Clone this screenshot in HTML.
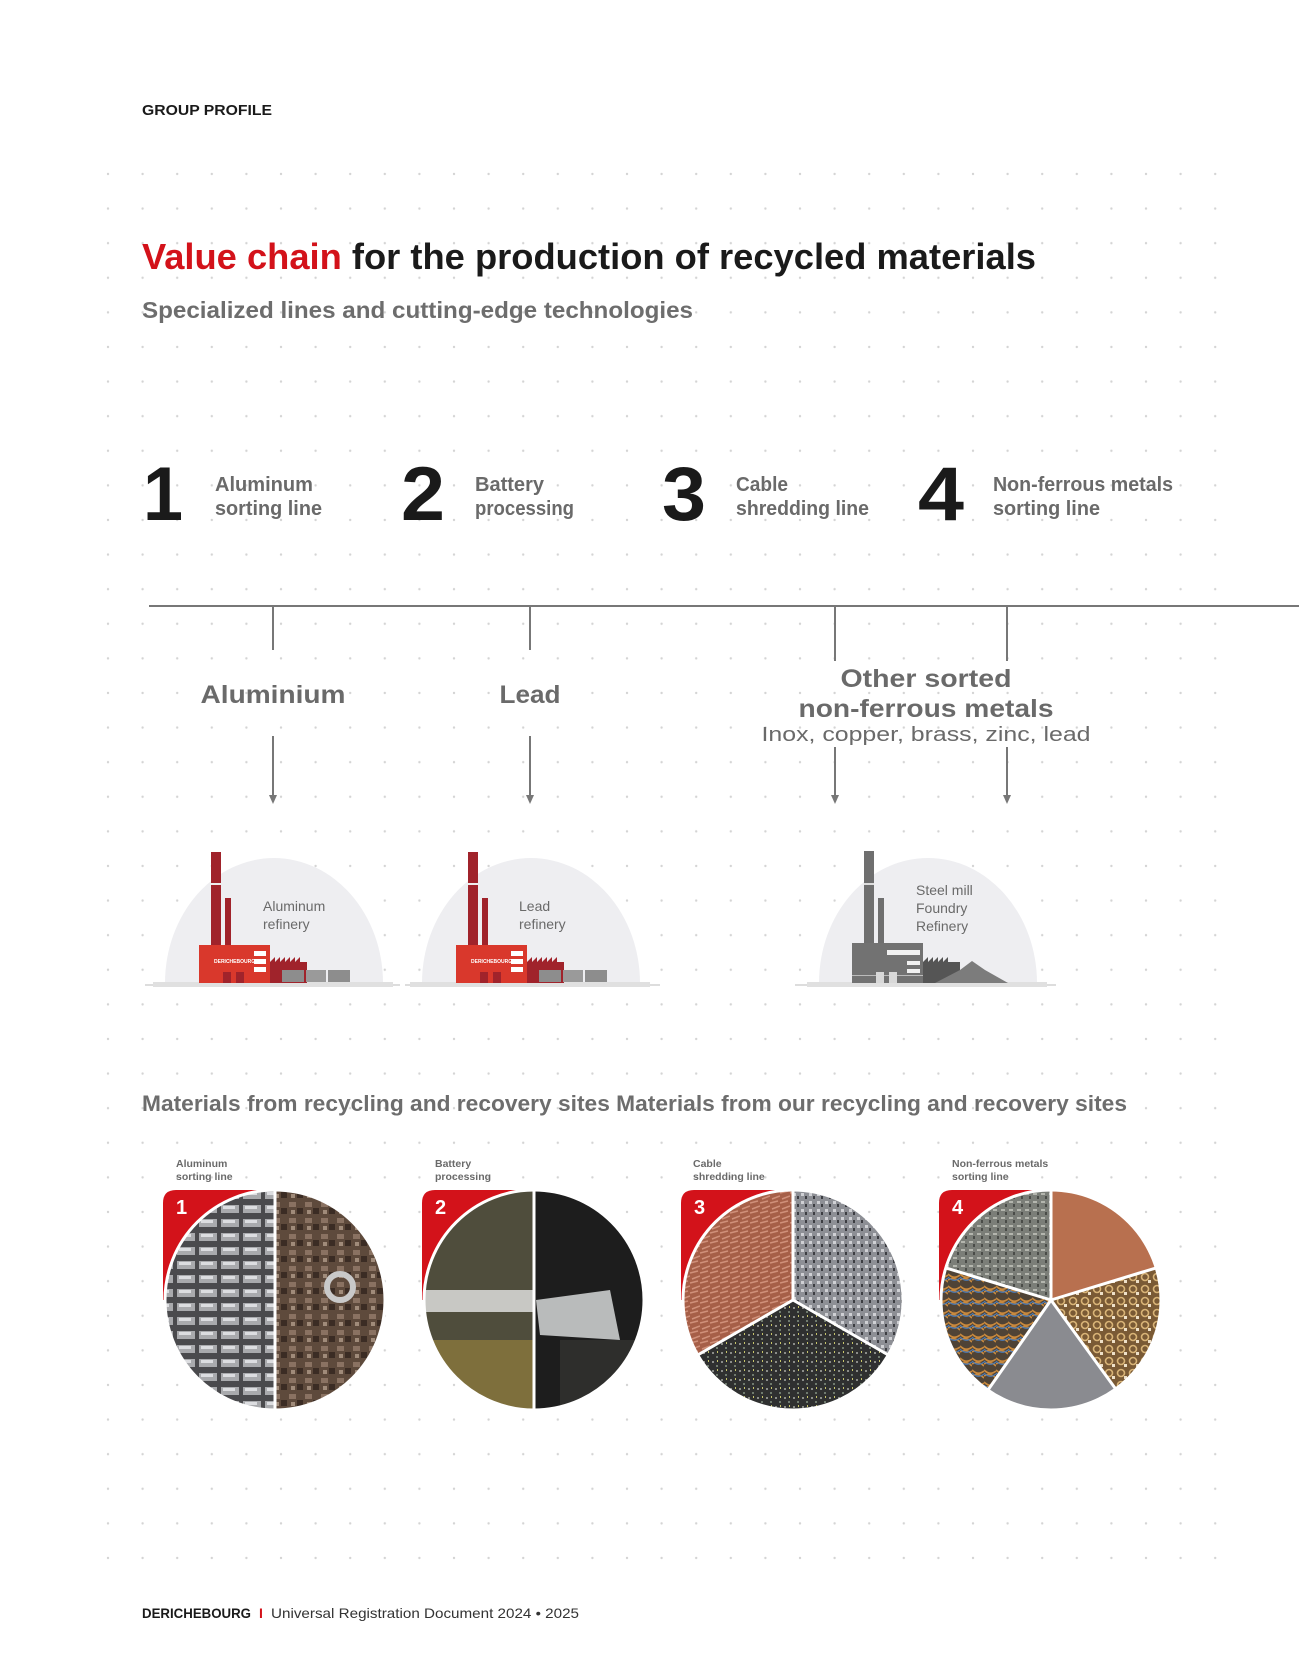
<!DOCTYPE html>
<html><head><meta charset="utf-8"><style>
html,body{margin:0;padding:0;background:#fff;}
svg{display:block;}
text{font-family:"Liberation Sans",sans-serif;}
</style></head><body>
<svg width="1299" height="1653" viewBox="0 0 1299 1653" xmlns="http://www.w3.org/2000/svg">
<defs>
<pattern id="dots" x="106.5" y="172.5" width="34.6" height="34.6" patternUnits="userSpaceOnUse">
<circle cx="1.5" cy="1.5" r="1.2" fill="#d4d4d4"/></pattern>
<pattern id="silver" width="22" height="14" patternUnits="userSpaceOnUse">
<rect width="22" height="14" fill="#4a4a4d"/><rect x="1" y="1" width="18" height="8" fill="#a9aaad"/><rect x="3" y="2" width="12" height="3" fill="#dcdde0"/></pattern>
<pattern id="brown" width="16" height="16" patternUnits="userSpaceOnUse">
<rect width="16" height="16" fill="#5e4a3c"/><rect x="1" y="2" width="7" height="5" fill="#8a7262"/><rect x="9" y="8" width="6" height="6" fill="#3b2c24"/><rect x="3" y="10" width="4" height="4" fill="#a08b7a"/></pattern>
<pattern id="copper" width="10" height="10" patternUnits="userSpaceOnUse">
<rect width="10" height="10" fill="#a65f48"/><path d="M0 3 L8 1 M2 9 L10 6" stroke="#d0907a" stroke-width="1.5"/></pattern>
<pattern id="grav" width="8" height="8" patternUnits="userSpaceOnUse">
<rect width="8" height="8" fill="#8d8f95"/><rect x="1" y="1" width="3" height="3" fill="#cfd0d4"/><rect x="5" y="4" width="2" height="3" fill="#3c3d42"/></pattern>
<pattern id="grav2" width="8" height="8" patternUnits="userSpaceOnUse">
<rect width="8" height="8" fill="#7b7e78"/><rect x="1" y="1" width="4" height="2" fill="#b4b6ae"/><rect x="5" y="4" width="2" height="3" fill="#4a4c48"/></pattern>
<pattern id="darksp" width="9" height="9" patternUnits="userSpaceOnUse">
<rect width="9" height="9" fill="#2f3030"/><rect x="1" y="2" width="2" height="2" fill="#8b8d89"/><rect x="5" y="6" width="2" height="2" fill="#6f7a6e"/><rect x="6" y="1" width="1" height="2" fill="#c8c66a"/></pattern>
<pattern id="wires" width="12" height="12" patternUnits="userSpaceOnUse">
<rect width="12" height="12" fill="#4f4336"/><path d="M0 2 Q6 8 12 3 M0 8 Q6 4 12 10" stroke="#c9893d" stroke-width="1.6" fill="none"/><path d="M0 5 Q6 11 12 6" stroke="#4a7ab5" stroke-width="1.2" fill="none"/></pattern>
<pattern id="gold" width="12" height="12" patternUnits="userSpaceOnUse">
<rect width="12" height="12" fill="#7a5a35"/><circle cx="5" cy="5" r="3.5" fill="none" stroke="#d9b477" stroke-width="1.6"/><rect x="8" y="8" width="3" height="3" fill="#eee0c8"/></pattern>
<clipPath id="c2"><circle cx="534" cy="1300" r="110"/></clipPath>
</defs>

<rect x="100" y="168" width="1125" height="1395" fill="url(#dots)"/>

<text x="142" y="115" font-size="15" font-weight="bold" fill="#1a1a1a" textLength="130" lengthAdjust="spacingAndGlyphs">GROUP PROFILE</text>

<text x="142" y="269" font-size="36" font-weight="bold" fill="#1a1a1a" textLength="894" lengthAdjust="spacingAndGlyphs"><tspan fill="#d3121a">Value chain</tspan> for the production of recycled materials</text>
<text x="142" y="318" font-size="23" font-weight="bold" fill="#6d6d6d" textLength="551" lengthAdjust="spacingAndGlyphs">Specialized lines and cutting-edge technologies</text>

<g font-weight="bold">
<text x="143" y="520" font-size="76" fill="#1a1a1a" textLength="40" lengthAdjust="spacingAndGlyphs">1</text>
<text x="401" y="520" font-size="76" fill="#1a1a1a" textLength="44" lengthAdjust="spacingAndGlyphs">2</text>
<text x="662" y="520" font-size="76" fill="#1a1a1a" textLength="44" lengthAdjust="spacingAndGlyphs">3</text>
<text x="918" y="520" font-size="76" fill="#1a1a1a" textLength="46" lengthAdjust="spacingAndGlyphs">4</text>
</g>
<g font-size="20" font-weight="bold" fill="#6a6a6a">
<text x="215" y="491" textLength="98" lengthAdjust="spacingAndGlyphs">Aluminum</text>
<text x="215" y="515" textLength="107" lengthAdjust="spacingAndGlyphs">sorting line</text>
<text x="475" y="491" textLength="69" lengthAdjust="spacingAndGlyphs">Battery</text>
<text x="475" y="515" textLength="99" lengthAdjust="spacingAndGlyphs">processing</text>
<text x="736" y="491" textLength="52" lengthAdjust="spacingAndGlyphs">Cable</text>
<text x="736" y="515" textLength="133" lengthAdjust="spacingAndGlyphs">shredding line</text>
<text x="993" y="491" textLength="180" lengthAdjust="spacingAndGlyphs">Non-ferrous metals</text>
<text x="993" y="515" textLength="107" lengthAdjust="spacingAndGlyphs">sorting line</text>
</g>

<g stroke="#777" stroke-width="2" fill="none">
<line x1="149" y1="606" x2="1299" y2="606"/>
<line x1="273" y1="606" x2="273" y2="650"/>
<line x1="530" y1="606" x2="530" y2="650"/>
<line x1="835" y1="606" x2="835" y2="661"/>
<line x1="1007" y1="606" x2="1007" y2="661"/>
<line x1="273" y1="736" x2="273" y2="796"/>
<line x1="530" y1="736" x2="530" y2="796"/>
<line x1="835" y1="747" x2="835" y2="796"/>
<line x1="1007" y1="747" x2="1007" y2="796"/>
</g>
<g fill="#777">
<path d="M269 795 L277 795 L273 804 Z"/><path d="M526 795 L534 795 L530 804 Z"/>
<path d="M831 795 L839 795 L835 804 Z"/><path d="M1003 795 L1011 795 L1007 804 Z"/>
</g>

<g font-weight="bold" fill="#6a6a6a" text-anchor="middle">
<text x="273" y="703" font-size="25" textLength="145" lengthAdjust="spacingAndGlyphs">Aluminium</text>
<text x="530" y="703" font-size="25" textLength="61" lengthAdjust="spacingAndGlyphs">Lead</text>
<text x="926" y="687" font-size="25" textLength="171" lengthAdjust="spacingAndGlyphs">Other sorted</text>
<text x="926" y="717" font-size="25" textLength="255" lengthAdjust="spacingAndGlyphs">non-ferrous metals</text>
</g>
<text x="926" y="741" font-size="20" fill="#6a6a6a" text-anchor="middle" textLength="329" lengthAdjust="spacingAndGlyphs">Inox, copper, brass, zinc, lead</text>

<!-- factory 1 -->
<g>
<line x1="145" y1="985" x2="400" y2="985" stroke="#bbb" stroke-width="1"/>
<path d="M165 983 A109 125 0 0 1 383 983 Z" fill="#eeeef1"/>
<rect x="153" y="982" width="240" height="5" fill="#e0e0e0"/>
<rect x="211" y="852" width="10" height="93" fill="#a0232b"/><rect x="211" y="883" width="10" height="2" fill="#eee"/>
<rect x="225" y="898" width="6" height="47" fill="#a0232b"/>
<rect x="199" y="945" width="71" height="38" fill="#d9382c"/>
<rect x="254" y="951" width="12" height="5" fill="#fff"/><rect x="254" y="959" width="12" height="5" fill="#fff"/><rect x="254" y="967" width="12" height="5" fill="#fff"/>
<text x="214" y="963" font-size="5" fill="#fff" font-weight="bold">DERICHEBOURG</text>
<rect x="223" y="972" width="8" height="11" fill="#a0232b"/><rect x="236" y="972" width="8" height="11" fill="#a0232b"/>
<path d="M270 983 L270 962 L275 957 L275 962 L280 957 L280 962 L285 957 L285 962 L290 957 L290 962 L295 957 L295 962 L300 957 L300 962 L307 962 L307 983 Z" fill="#a0232b"/>
<rect x="282" y="970" width="22" height="12" fill="#8d8d8d"/><rect x="306" y="970" width="20" height="12" fill="#9a9a9a"/><rect x="328" y="970" width="22" height="12" fill="#8d8d8d"/>
<text x="263" y="911" font-size="14" fill="#6a6a6a">Aluminum</text>
<text x="263" y="929" font-size="14" fill="#6a6a6a">refinery</text>
</g>
<!-- factory 2 -->
<g transform="translate(257,0)">
<line x1="148" y1="985" x2="403" y2="985" stroke="#bbb" stroke-width="1"/>
<path d="M165 983 A109 125 0 0 1 383 983 Z" fill="#eeeef1"/>
<rect x="153" y="982" width="240" height="5" fill="#e0e0e0"/>
<rect x="211" y="852" width="10" height="93" fill="#a0232b"/><rect x="211" y="883" width="10" height="2" fill="#eee"/>
<rect x="225" y="898" width="6" height="47" fill="#a0232b"/>
<rect x="199" y="945" width="71" height="38" fill="#d9382c"/>
<rect x="254" y="951" width="12" height="5" fill="#fff"/><rect x="254" y="959" width="12" height="5" fill="#fff"/><rect x="254" y="967" width="12" height="5" fill="#fff"/>
<text x="214" y="963" font-size="5" fill="#fff" font-weight="bold">DERICHEBOURG</text>
<rect x="223" y="972" width="8" height="11" fill="#a0232b"/><rect x="236" y="972" width="8" height="11" fill="#a0232b"/>
<path d="M270 983 L270 962 L275 957 L275 962 L280 957 L280 962 L285 957 L285 962 L290 957 L290 962 L295 957 L295 962 L300 957 L300 962 L307 962 L307 983 Z" fill="#a0232b"/>
<rect x="282" y="970" width="22" height="12" fill="#8d8d8d"/><rect x="306" y="970" width="20" height="12" fill="#9a9a9a"/><rect x="328" y="970" width="22" height="12" fill="#8d8d8d"/>
<text x="262" y="911" font-size="14" fill="#6a6a6a">Lead</text>
<text x="262" y="929" font-size="14" fill="#6a6a6a">refinery</text>
</g>
<!-- factory 3 -->
<g>
<line x1="795" y1="985" x2="1056" y2="985" stroke="#bbb" stroke-width="1"/>
<path d="M819 983 A109 125 0 0 1 1037 983 Z" fill="#eeeef1"/>
<rect x="807" y="982" width="240" height="5" fill="#e0e0e0"/>
<rect x="864" y="851" width="10" height="92" fill="#6f6f6f"/><rect x="864" y="883" width="10" height="2" fill="#ddd"/>
<rect x="878" y="898" width="6" height="45" fill="#6f6f6f"/>
<rect x="852" y="943" width="71" height="40" fill="#727272"/>
<rect x="887" y="950" width="33" height="5" fill="#f0f0f0"/><rect x="907" y="961" width="13" height="4" fill="#f0f0f0"/><rect x="907" y="969" width="13" height="4" fill="#f0f0f0"/>
<rect x="852" y="975" width="71" height="1" fill="#bbb"/>
<rect x="876" y="972" width="8" height="11" fill="#d8d8d8"/><rect x="889" y="972" width="8" height="11" fill="#d8d8d8"/>
<path d="M923 983 L923 962 L928 957 L928 962 L933 957 L933 962 L938 957 L938 962 L943 957 L943 962 L948 957 L948 962 L960 962 L960 983 Z" fill="#555"/>
<path d="M935 983 L960 970 L972 961 L985 970 L1008 983 Z" fill="#7c7c7c"/>
<text x="916" y="895" font-size="14" fill="#6a6a6a">Steel mill</text>
<text x="916" y="913" font-size="14" fill="#6a6a6a">Foundry</text>
<text x="916" y="931" font-size="14" fill="#6a6a6a">Refinery</text>
</g>

<text x="142" y="1111" font-size="22" font-weight="bold" fill="#6d6d6d" textLength="985" lengthAdjust="spacingAndGlyphs">Materials from recycling and recovery sites Materials from our recycling and recovery sites</text>

<g font-size="10.5" font-weight="bold" fill="#6a6a6a">
<text x="176" y="1167">Aluminum</text><text x="176" y="1180">sorting line</text>
<text x="435" y="1167">Battery</text><text x="435" y="1180">processing</text>
<text x="693" y="1167">Cable</text><text x="693" y="1180">shredding line</text>
<text x="952" y="1167">Non-ferrous metals</text><text x="952" y="1180">sorting line</text>
</g>

<!-- circle 1 -->
<path d="M163 1300 L163 1203 Q163 1190 176 1190 L275 1190 L275 1300 Z" fill="#d3121a"/>
<path d="M275 1190 A110 110 0 0 0 275 1410 Z" fill="url(#silver)"/>
<path d="M275 1190 A110 110 0 0 1 275 1410 Z" fill="url(#brown)"/>
<circle cx="340" cy="1287" r="13" fill="none" stroke="#c9c9c9" stroke-width="6"/>
<line x1="275" y1="1190" x2="275" y2="1410" stroke="#fff" stroke-width="3"/>
<circle cx="275" cy="1300" r="110" fill="none" stroke="#fff" stroke-width="3"/>
<text x="176" y="1214" font-size="20" font-weight="bold" fill="#fff">1</text>

<!-- circle 2 -->
<path d="M422 1300 L422 1203 Q422 1190 435 1190 L534 1190 L534 1300 Z" fill="#d3121a"/>
<g clip-path="url(#c2)">
<rect x="420" y="1186" width="114" height="230" fill="#4f4d3c"/>
<rect x="420" y="1340" width="114" height="76" fill="#7e6f3c"/>
<rect x="420" y="1290" width="114" height="22" fill="#c8c8c4"/>
<rect x="534" y="1186" width="116" height="230" fill="#1d1d1d"/>
<path d="M536 1300 L610 1290 L620 1340 L540 1335 Z" fill="#b9bbbb"/>
<rect x="560" y="1340" width="90" height="76" fill="#2e2e2c"/>
</g>
<line x1="534" y1="1190" x2="534" y2="1410" stroke="#fff" stroke-width="3"/>
<circle cx="534" cy="1300" r="110" fill="none" stroke="#fff" stroke-width="3"/>
<text x="435" y="1214" font-size="20" font-weight="bold" fill="#fff">2</text>

<!-- circle 3 -->
<path d="M681 1300 L681 1203 Q681 1190 694 1190 L793 1190 L793 1300 Z" fill="#d3121a"/>
<path d="M793 1300 L697.7 1355 A110 110 0 0 1 793 1190 Z" fill="url(#copper)"/>
<path d="M793 1300 L793 1190 A110 110 0 0 1 888.3 1355 Z" fill="url(#grav)"/>
<path d="M793 1300 L888.3 1355 A110 110 0 0 1 697.7 1355 Z" fill="url(#darksp)"/>
<g stroke="#fff" stroke-width="3"><line x1="793" y1="1300" x2="793" y2="1190"/><line x1="793" y1="1300" x2="888.3" y2="1355"/><line x1="793" y1="1300" x2="697.7" y2="1355"/></g>
<circle cx="793" cy="1300" r="110" fill="none" stroke="#fff" stroke-width="3"/>
<text x="694" y="1214" font-size="20" font-weight="bold" fill="#fff">3</text>

<!-- circle 4 -->
<path d="M939 1300 L939 1203 Q939 1190 952 1190 L1051 1190 L1051 1300 Z" fill="#d3121a"/>
<path d="M1051 1300 L945.8 1267.9 A110 110 0 0 1 1051 1190 Z" fill="url(#grav2)"/>
<path d="M1051 1300 L1051 1190 A110 110 0 0 1 1156.2 1267.9 Z" fill="#b8704f"/>
<path d="M1051 1300 L1156.2 1267.9 A110 110 0 0 1 1115.7 1389 Z" fill="url(#gold)"/>
<path d="M1051 1300 L1115.7 1389 A110 110 0 0 1 987.9 1390.1 Z" fill="#8a8b90"/>
<path d="M1051 1300 L987.9 1390.1 A110 110 0 0 1 945.8 1267.9 Z" fill="url(#wires)"/>
<g stroke="#fff" stroke-width="3"><line x1="1051" y1="1300" x2="1051" y2="1190"/><line x1="1051" y1="1300" x2="1156.2" y2="1267.9"/><line x1="1051" y1="1300" x2="1115.7" y2="1389"/><line x1="1051" y1="1300" x2="987.9" y2="1390.1"/><line x1="1051" y1="1300" x2="945.8" y2="1267.9"/></g>
<circle cx="1051" cy="1300" r="110" fill="none" stroke="#fff" stroke-width="3"/>
<text x="952" y="1214" font-size="20" font-weight="bold" fill="#fff">4</text>

<text x="142" y="1618" font-size="14" font-weight="bold" fill="#1a1a1a" textLength="109" lengthAdjust="spacingAndGlyphs">DERICHEBOURG</text>
<text x="259" y="1618" font-size="14" font-weight="bold" fill="#d3121a">I</text>
<text x="271" y="1618" font-size="14" fill="#333" textLength="308" lengthAdjust="spacingAndGlyphs">Universal Registration Document 2024 • 2025</text>
</svg>
</body></html>
